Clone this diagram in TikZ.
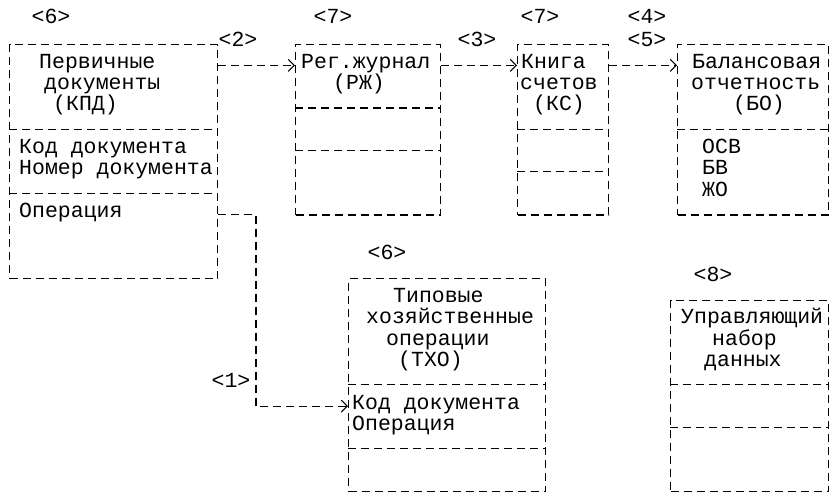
\documentclass[tikz,border=0pt]{standalone}
\usepackage{fontspec}
\setmonofont{Liberation Mono}
\usetikzlibrary{arrows.meta}

\begin{document}
\begin{tikzpicture}[x=1pt, y=-21.3pt,
    every node/.style={font=\ttfamily\fontsize{21.5}{24}\selectfont},
    box/.style={draw, dash pattern=on 8pt off 5pt, line width=1.1pt, inner sep=0pt, anchor=north west},
    txt/.style={anchor=west, inner sep=0pt, text height=0.57em, text depth=0pt},
    lbl/.style={inner sep=0pt, text height=0.57em, text depth=0pt},
    sep/.style={dash pattern=on 8pt off 5pt, line width=1.1pt},
    arr/.style={sep, -{Straight Barb[length=6pt,width=12pt]}}]
      \useasboundingbox (0,-2.07) rectangle (832,21.36);

      % boxes (rows counted downwards)
      \node at (9,0)   [box, minimum width=208pt, minimum height=11*21.3pt] (kpd) {};
      \node at (295,0) [box, minimum width=145pt, minimum height=8*21.3pt]  (rzh) {};
      \node at (517,0) [box, minimum width=91pt,  minimum height=8*21.3pt]  (ks)  {};
      \node at (677,0) [box, minimum width=151pt, minimum height=8*21.3pt]  (bo)  {};
      \node at (348,11)[box, minimum width=197pt, minimum height=10*21.3pt] (txo) {};
      \node at (670,12)[box, minimum width=158pt, minimum height=9*21.3pt]  (upr) {};

      \draw[sep] (kpd.west |- 0,4)  -- (kpd.east |- 0,4);
      \draw[sep] (kpd.west |- 0,7)  -- (kpd.east |- 0,7);
      \draw[sep] (rzh.west |- 0,3)  -- (rzh.east |- 0,3);
      \draw[sep] (rzh.west |- 0,5)  -- (rzh.east |- 0,5);
      \draw[sep] (ks.west |- 0,4)   -- (ks.east |- 0,4);
      \draw[sep] (ks.west |- 0,6)   -- (ks.east |- 0,6);
      \draw[sep] (bo.west |- 0,4)   -- (bo.east |- 0,4);
      \draw[sep] (txo.west |- 0,16) -- (txo.east |- 0,16);
      \draw[sep] (txo.west |- 0,19) -- (txo.east |- 0,19);
      \draw[sep] (upr.west |- 0,16) -- (upr.east |- 0,16);
      \draw[sep] (upr.west |- 0,18) -- (upr.east |- 0,18);

      % texts
      \node at (39,1)  [txt] (kpd1) {Первичные};
      \node at (44,2)  [txt] (kpd2) {документы};
      \node at (53,3)  [txt] (kpd3) {(КПД)};
      \node at (19,5)  [txt] (kpd4) {Код документа};
      \node at (19,6)  [txt] (kpd5) {Номер документа};
      \node at (19,8)  [txt] (kpdop) {Операция};

      \node at (301,1) [txt] (rzh1) {Рег.журнал};
      \node at (333,2) [txt] (rzh2) {(РЖ)};

      \node at (521,1) [txt] (ks1) {Книга};
      \node at (520,2) [txt] (ks2) {счетов};
      \node at (533,3) [txt] (ks3) {(КС)};

      \node at (692,1) [txt] (bo1) {Балансовая};
      \node at (691,2) [txt] (bo2) {отчетность};
      \node at (733,3) [txt] (bo3) {(БО)};
      \node at (702,5) [txt] (bo4) {ОСВ};
      \node at (702,6) [txt] (bo5) {БВ};
      \node at (702,7) [txt] (bo6) {ЖО};

      \node at (393,12) [txt] (txo1) {Типовые};
      \node at (366,13) [txt] (txo2) {хозяйственные};
      \node at (386,14) [txt] (txo3) {операции};
      \node at (398,15) [txt] (txo4) {(ТХО)};
      \node at (352,17) [txt] (txokod) {Код документа};
      \node at (352,18) [txt] (txoop)  {Операция};

      \node at (681,13) [txt] (upr1) {Управляющий};
      \node at (712,14) [txt] (upr2) {набор};
      \node at (704,15) [txt] (upr3) {данных};

      % labels
      \node at (51,-1.1)  [lbl] (l6a) {<6>};
      \node at (333,-1.1) [lbl] (l7a) {<7>};
      \node at (540,-1.1) [lbl] (l7b) {<7>};
      \node at (647,-1.1) [lbl] (l4)  {<4>};
      \node at (238,0)    [lbl] (l2)  {<2>};
      \node at (477,0)    [lbl] (l3)  {<3>};
      \node at (647,0)    [lbl] (l5)  {<5>};
      \node at (387,10)   [lbl] (l6b) {<6>};
      \node at (231,16)   [lbl] (l1)  {<1>};
      \node at (713,11)   [lbl] (l8)  {<8>};

      % connectors
      \coordinate (bend) at (256,8);
      \draw[arr] (kpd.east |- kpd1) -- (rzh.west |- kpd1);
      \draw[arr] (rzh.east |- rzh1) -- (ks.west |- rzh1);
      \draw[arr] (ks.east |- ks1)   -- (bo.west |- ks1);
      \draw[arr] (kpd.east |- kpdop) -- (bend) |- (txo.west |- txokod);
\end{tikzpicture}
\end{document}
